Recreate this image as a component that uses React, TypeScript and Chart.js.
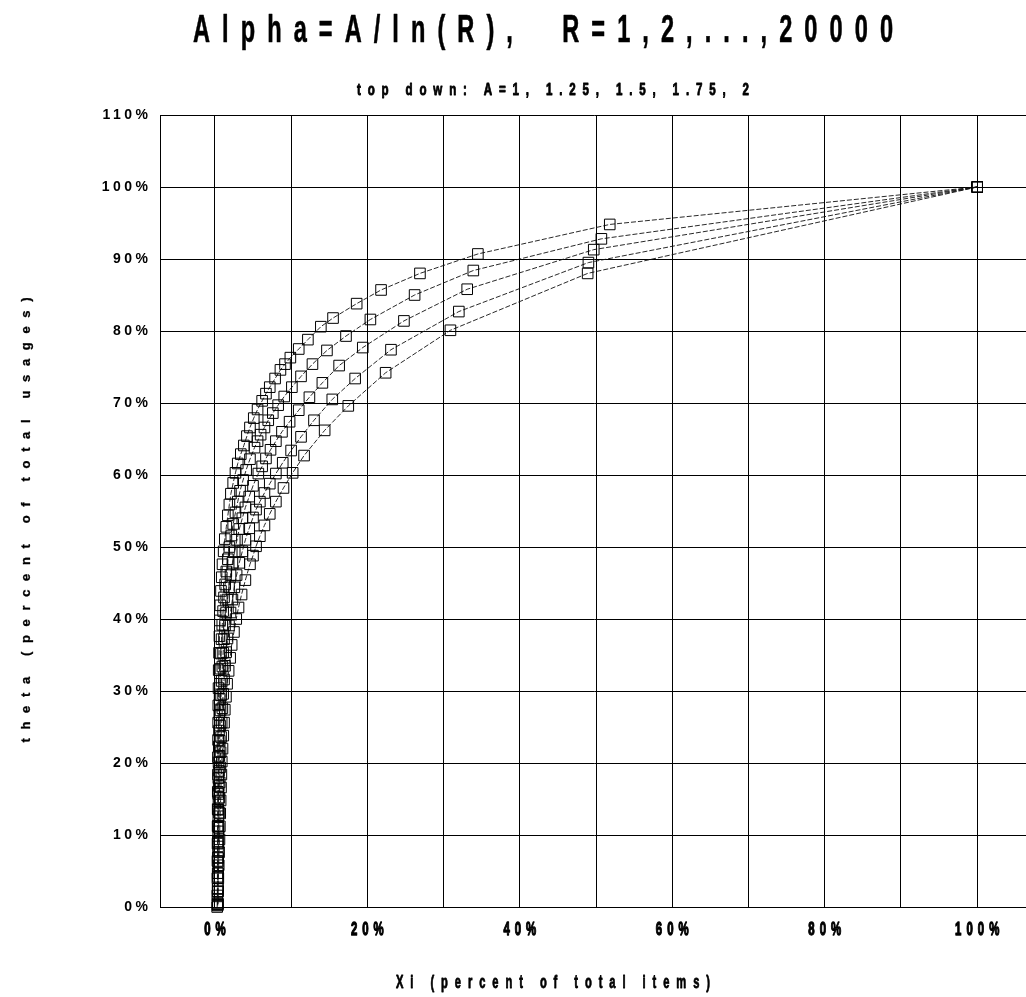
import React, { useEffect, useRef } from 'react';
import { Chart, registerables } from 'chart.js';

Chart.register(...registerables);

const titleText = 'Alpha=A/ln(R),  R=1,2,...,20000';
const subtitleText = 'top down: A=1, 1.25, 1.5, 1.75, 2';
const xAxisTitle = 'Xi (percent of total items)';
const yAxisTitle = 'theta (percent of total usages)';

const seriesNames = ['A=1', 'A=1.25', 'A=1.5', 'A=1.75', 'A=2'];

const xMin = -7.2;
const xMax = 106.6;
const xGridValues = [0, 10, 20, 30, 40, 50, 60, 70, 80, 90, 100];
const xLabelValues = [0, 20, 40, 60, 80, 100];
const yMin = 0;
const yMax = 110;
const yStep = 10;

// A=1
const xA100 = [100, 51.8, 34.5, 26.9, 21.8, 18.6, 15.5, 13.9, 12.2, 11.0, 9.9, 9.2, 8.6, 7.9, 7.2, 6.7, 6.2, 5.6, 5.1, 4.6, 4.2, 3.8, 3.4, 3.0, 2.7, 2.4, 2.1, 1.9, 1.7, 1.5, 1.3, 1.15, 1.0, 0.9, 0.8, 0.72, 0.66, 0.6, 0.55, 0.5, 0.48, 0.45, 0.43, 0.42, 0.4, 0.4, 0.38, 0.37, 0.36, 0.35, 0.34, 0.33, 0.32, 0.3];
const yA100 = [100, 94.8, 90.7, 88.0, 85.7, 83.8, 81.8, 80.6, 78.8, 77.5, 76.3, 75.4, 74.6, 73.4, 72.2, 71.3, 70.3, 69.1, 67.9, 66.6, 65.4, 64.1, 62.9, 61.6, 60.3, 58.9, 57.4, 55.9, 54.4, 52.8, 51.1, 49.4, 47.6, 45.8, 43.9, 41.9, 39.8, 37.6, 35.3, 32.9, 30.4, 28.0, 25.6, 23.2, 20.8, 18.4, 16.0, 13.6, 11.2, 8.8, 6.4, 4.0, 1.6, 0];
// A=1.25
const xA125 = [100, 50.7, 33.9, 26.2, 20.4, 17.2, 14.7, 12.8, 11.3, 10.1, 9.1, 8.3, 7.6, 7.0, 6.5, 6.0, 5.6, 5.2, 4.6, 4.1, 3.7, 3.3, 3.0, 2.7, 2.4, 2.15, 1.9, 1.7, 1.5, 1.35, 1.2, 1.08, 0.97, 0.88, 0.8, 0.73, 0.67, 0.62, 0.58, 0.54, 0.51, 0.48, 0.46, 0.44, 0.42, 0.4, 0.39, 0.38, 0.37, 0.36, 0.35];
const yA125 = [100, 92.8, 88.4, 85.0, 81.6, 79.3, 77.3, 75.4, 73.7, 72.2, 70.9, 69.7, 68.6, 67.6, 66.6, 65.6, 64.7, 63.8, 62.2, 60.7, 59.3, 57.8, 56.3, 54.8, 53.2, 51.6, 50.0, 48.3, 46.6, 44.8, 43.0, 41.1, 39.2, 37.2, 35.2, 33.1, 31.0, 28.9, 26.7, 24.5, 22.3, 20.1, 17.9, 15.7, 13.5, 11.3, 9.1, 6.9, 4.7, 2.5, 0.3];
// A=1.5
const xA150 = [100, 49.7, 33.1, 24.8, 19.4, 16.3, 14.1, 12.4, 11.0, 9.8, 8.8, 8.0, 7.3, 6.7, 6.2, 5.7, 5.0, 4.5, 4.0, 3.6, 3.2, 2.9, 2.6, 2.3, 2.05, 1.85, 1.65, 1.48, 1.33, 1.2, 1.08, 0.98, 0.89, 0.81, 0.74, 0.68, 0.63, 0.58, 0.54, 0.5, 0.47, 0.45, 0.43, 0.41, 0.4, 0.39, 0.38, 0.37];
const yA150 = [100, 91.3, 85.8, 81.4, 77.7, 75.2, 72.8, 70.8, 69.0, 67.4, 66.0, 64.7, 63.5, 62.3, 61.2, 60.2, 58.5, 57.0, 55.5, 54.0, 52.5, 51.0, 49.4, 47.8, 46.1, 44.4, 42.7, 40.9, 39.1, 37.2, 35.3, 33.4, 31.4, 29.4, 27.3, 25.2, 23.1, 21.0, 18.9, 16.8, 14.7, 12.6, 10.5, 8.4, 6.3, 4.2, 2.1, 0.2];
// A=1.75
const xA175 = [100, 49.0, 32.0, 23.1, 18.4, 15.4, 13.0, 11.3, 10.0, 8.9, 8.0, 7.2, 6.5, 5.9, 5.4, 5.0, 4.5, 4.0, 3.6, 3.2, 2.85, 2.55, 2.3, 2.05, 1.85, 1.65, 1.48, 1.33, 1.2, 1.08, 0.98, 0.89, 0.81, 0.74, 0.68, 0.63, 0.58, 0.54, 0.5, 0.47, 0.44, 0.42, 0.4, 0.38];
const yA175 = [100, 89.5, 82.7, 77.4, 73.4, 70.5, 67.6, 65.3, 63.4, 61.7, 60.2, 58.8, 57.5, 56.3, 55.2, 54.1, 52.6, 51.0, 49.4, 47.8, 46.1, 44.4, 42.7, 40.9, 39.1, 37.3, 35.4, 33.5, 31.6, 29.6, 27.6, 25.6, 23.6, 21.5, 19.4, 17.3, 15.2, 13.1, 11.0, 8.9, 6.8, 4.7, 2.6, 0.5];
// A=2
const xA200 = [100, 48.9, 30.9, 22.4, 17.5, 14.4, 11.7, 10.2, 9.0, 8.0, 7.2, 6.5, 5.9, 5.4, 5.0, 4.6, 4.0, 3.5, 3.1, 2.8, 2.5, 2.2, 2.0, 1.8, 1.6, 1.45, 1.3, 1.2, 1.1, 1.0, 0.9, 0.85, 0.8, 0.75, 0.7, 0.65, 0.6, 0.55, 0.5, 0.45, 0.42, 0.4];
const yA200 = [100, 88.0, 80.1, 74.2, 69.6, 66.2, 62.7, 60.3, 58.2, 56.3, 54.6, 53.0, 51.5, 50.1, 48.8, 47.6, 45.4, 43.4, 41.6, 40.0, 38.2, 36.4, 34.6, 32.8, 31.0, 29.2, 27.4, 25.6, 23.8, 22.0, 20.2, 18.4, 16.6, 14.8, 13.0, 11.2, 9.4, 7.6, 5.8, 4.0, 2.2, 0.4];

const seriesX = [xA100, xA125, xA150, xA175, xA200];
const seriesY = [yA100, yA125, yA150, yA175, yA200];

const SANS = "'Liberation Sans', Arial, sans-serif";

// draw text condensed horizontally with letter spacing fitted to a target width
function drawFitted(
  ctx: CanvasRenderingContext2D,
  text: string,
  cx: number,
  baseline: number,
  font: string,
  sx: number,
  targetW: number,
  stroke = 0
) {
  ctx.font = font;
  const chars = Array.from(text);
  const ws = chars.map((c) => ctx.measureText(c).width * sx);
  const sum = ws.reduce((a, b) => a + b, 0);
  const gap = chars.length > 1 ? (targetW - sum) / (chars.length - 1) : 0;
  let x = cx - targetW / 2;
  chars.forEach((c, i) => {
    ctx.save();
    ctx.translate(x, baseline);
    ctx.scale(sx, 1);
    ctx.fillText(c, 0, 0);
    if (stroke > 0) {
      ctx.lineWidth = stroke;
      ctx.strokeStyle = '#000';
      ctx.lineJoin = 'round';
      ctx.strokeText(c, 0, 0);
    }
    ctx.restore();
    x += ws[i] + gap;
  });
}

// draw text condensed horizontally with a fixed gap, centred on cx
function drawGapped(
  ctx: CanvasRenderingContext2D,
  text: string,
  cx: number,
  baseline: number,
  font: string,
  sx: number,
  gap: number,
  stroke = 0
) {
  ctx.font = font;
  const chars = Array.from(text);
  const ws = chars.map((c) => ctx.measureText(c).width * sx);
  const total = ws.reduce((a, b) => a + b, 0) + gap * (chars.length - 1);
  drawFitted(ctx, text, cx, baseline, font, sx, total, stroke);
}

const textPlugin = {
  id: 'scanText',
  beforeDraw(chart: any) {
    const ctx = chart.ctx as any;
    ctx.fillStyle = '#fff';
    ctx.fillRect(0, 0, chart.width, chart.height);
    ctx.letterSpacing = '3.5px';
  },
  afterDraw(chart: any) {
    const ctx = chart.ctx as any;
    ctx.save();
    ctx.letterSpacing = '0px';
    ctx.fillStyle = '#000';
    ctx.textAlign = 'left';
    ctx.textBaseline = 'alphabetic';
    drawFitted(ctx, titleText, 543, 42, `bold 38px ${SANS}`, 0.62, 700, 0.6);
    drawFitted(ctx, subtitleText, 553, 95, `bold 17px ${SANS}`, 0.68, 392, 0.9);
    drawFitted(ctx, xAxisTitle, 553, 988, `bold 18px ${SANS}`, 0.62, 314, 0.8);
    // x tick labels, positioned by the x scale
    const xs = chart.scales.x;
    xLabelValues.forEach((v) => {
      drawGapped(ctx, `${v}%`, xs.getPixelForValue(v), 935, `bold 19px ${SANS}`, 0.6, 5, 1.3);
    });
    ctx.save();
    ctx.translate(25, 520);
    ctx.rotate(-Math.PI / 2);
    drawFitted(ctx, yAxisTitle, 0, 4.5, `bold 13px ${SANS}`, 1, 445, 0.3);
    ctx.restore();
    ctx.restore();
  },
};

export default function App() {
  const canvasRef = useRef<HTMLCanvasElement | null>(null);

  useEffect(() => {
    if (!canvasRef.current) return;
    const datasets = seriesNames.map((name, i) => ({
      label: name,
      data: seriesX[i].map((x, j) => ({ x, y: seriesY[i][j] })),
      showLine: true,
      borderColor: '#111',
      borderWidth: 0.9,
      borderDash: [5, 2],
      pointStyle: 'rect' as const,
      pointRadius: 7.5,
      pointBorderWidth: 1,
      pointBorderColor: '#000',
      pointBackgroundColor: 'rgba(255,255,255,0)',
      clip: false as any,
    }));

    const chart = new Chart(canvasRef.current, {
      type: 'scatter',
      data: { datasets },
      plugins: [textPlugin],
      options: {
        animation: false,
        responsive: false,
        events: [],
        layout: { padding: { top: 115, left: 0, right: 0, bottom: 0 } },
        plugins: {
          legend: { display: false },
          title: { display: false },
          tooltip: { enabled: false },
        },
        scales: {
          x: {
            type: 'linear',
            min: xMin,
            max: xMax,
            afterBuildTicks: (axis: any) => {
              axis.ticks = [xMin, ...xGridValues, xMax].map((v) => ({ value: v }));
            },
            afterFit: (scale: any) => {
              scale.height = 90;
            },
            grid: { color: '#000', lineWidth: 1, drawTicks: false },
            border: { display: true, color: '#000', width: 1 },
            ticks: { display: false },
          },
          y: {
            type: 'linear',
            min: yMin,
            max: yMax,
            afterFit: (scale: any) => {
              scale.width = 160;
            },
            grid: { color: '#000', lineWidth: 1, drawTicks: false },
            border: { display: true, color: '#000', width: 1 },
            ticks: {
              stepSize: yStep,
              padding: 8.5,
              color: '#000',
              font: { family: SANS, size: 14, weight: 'bold' },
              callback: (v: any) => `${v}%`,
            },
          },
        },
      } as any,
    });
    return () => chart.destroy();
  }, []);

  return (
    <div style={{ position: 'fixed', left: 0, top: 0, width: 1026, height: 997, background: '#fff', overflow: 'hidden' }}>
      <canvas ref={canvasRef} width={1036} height={997} style={{ display: 'block', width: 1036, height: 997 }} />
    </div>
  );
}
